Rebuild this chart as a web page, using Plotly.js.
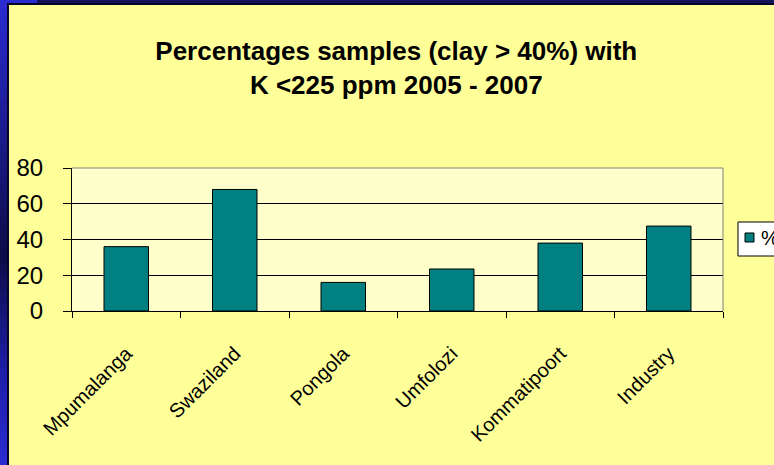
<!DOCTYPE html>
<html>
<head>
<meta charset="utf-8">
<script src="https://cdn.plot.ly/plotly-3.0.1.min.js"></script>
<style>
  html, body { margin: 0; padding: 0; background: #FFFF99; }
  #wrap { position: relative; width: 774px; height: 465px; overflow: hidden; background: #FFFF99; }
  #chart { position: absolute; left: 0; top: 0; width: 774px; height: 465px; }
  .strip { position: absolute; z-index: 10; pointer-events: none; }
</style>
</head>
<body>
<div id="wrap">
  <div id="chart"></div>
  <div class="strip" style="left:0;top:0;width:8px;height:465px;background:linear-gradient(to bottom,#2B2BD2 0%,#1A1A8A 30%,#0C0C48 55%,#1E1EA8 80%,#2B2BD2 100%);"></div>
  <div class="strip" style="left:7px;top:3px;width:2px;height:462px;background:#05052A;"></div>
  <div class="strip" style="left:8px;top:0;width:766px;height:3px;background:#14145A;"></div>
  <div class="strip" style="left:0;top:0;width:37px;height:3px;background:#2B2BD2;"></div>
  <div class="strip" style="left:7px;top:3px;width:767px;height:2px;background:#05052A;"></div>
</div>
<script>
const categories = ["Mpumalanga", "Swaziland", "Pongola", "Umfolozi", "Kommatipoort", "Industry"];
const percentValues = [36, 68, 16, 23.5, 38, 47.5];
const seriesName = "%";
const yTickValues = [0, 20, 40, 60, 80];
const yTickLabels = ["0", "20", "40", "60", "80"];

const barColor = "#008080";

const trace = {
  type: "bar",
  x: categories,
  y: percentValues,
  name: seriesName,
  showlegend: false,
  marker: { color: barColor, line: { color: "#000000", width: 1 } },
  hoverinfo: "x+y"
};

// legend box drawn at the right edge (partly outside the window, as in the reference)
const legendShapes = [
  { type: "rect", xref: "paper", yref: "paper", x0: 1.023, x1: 1.11, y0: 0.3846, y1: 0.6224,
    fillcolor: "#FFFFFF", line: { color: "#000000", width: 1 } },
  { type: "rect", xref: "paper", yref: "paper", x0: 1.0338, x1: 1.0476, y0: 0.4825, y1: 0.5455,
    fillcolor: barColor, line: { color: "#000000", width: 1 } }
];

const layout = {
  width: 774,
  height: 465,
  paper_bgcolor: "rgba(0,0,0,0)",
  plot_bgcolor: "#FFFFCC",
  margin: { l: 72, r: 51, t: 168, b: 154, autoexpand: false },
  bargap: 0.59,
  title: {
    text: "Percentages samples (clay > 40%) with<br>K <225 ppm 2005 - 2007",
    x: 0.512,
    xanchor: "center",
    xref: "container",
    y: 1 - 60 / 465,
    yanchor: "top",
    yref: "container",
    font: { family: "'Liberation Sans', Arial, sans-serif", size: 26, weight: 700, color: "#000000" }
  },
  xaxis: {
    type: "category",
    showline: true,
    linecolor: "#000000",
    linewidth: 1,
    ticks: "outside",
    tickson: "boundaries",
    ticklen: 6,
    tickcolor: "#000000",
    tickangle: -45,
    ticklabelstandoff: 22,
    tickfont: { family: "Arial, 'Liberation Sans', sans-serif", size: 20, color: "#000000" },
    showgrid: false,
    zeroline: false
  },
  yaxis: {
    range: [0, 80],
    tickvals: yTickValues,
    ticktext: yTickLabels,
    showline: true,
    linecolor: "#000000",
    linewidth: 1,
    ticks: "outside",
    ticklen: 8,
    tickcolor: "#000000",
    ticklabelstandoff: 15,
    tickfont: { family: "Arial, 'Liberation Sans', sans-serif", size: 24, color: "#000000" },
    showgrid: true,
    gridcolor: "#000000",
    gridwidth: 1,
    zeroline: false
  },
  shapes: [
    { type: "line", xref: "paper", yref: "paper", x0: 0, x1: 1, y0: 1, y1: 1, line: { color: "#808080", width: 1 } },
    { type: "line", xref: "paper", yref: "paper", x0: 1, x1: 1, y0: 0, y1: 1, line: { color: "#808080", width: 1 } }
  ].concat(legendShapes),
  annotations: [
    { text: seriesName, xref: "paper", yref: "paper", x: 1.0553, y: 0.5105, xanchor: "left", yanchor: "middle",
      showarrow: false, font: { family: "Arial, 'Liberation Sans', sans-serif", size: 20, color: "#000000" } }
  ],
  showlegend: false
};

Plotly.newPlot("chart", [trace], layout, { displayModeBar: false, responsive: false });
</script>
</body>
</html>
